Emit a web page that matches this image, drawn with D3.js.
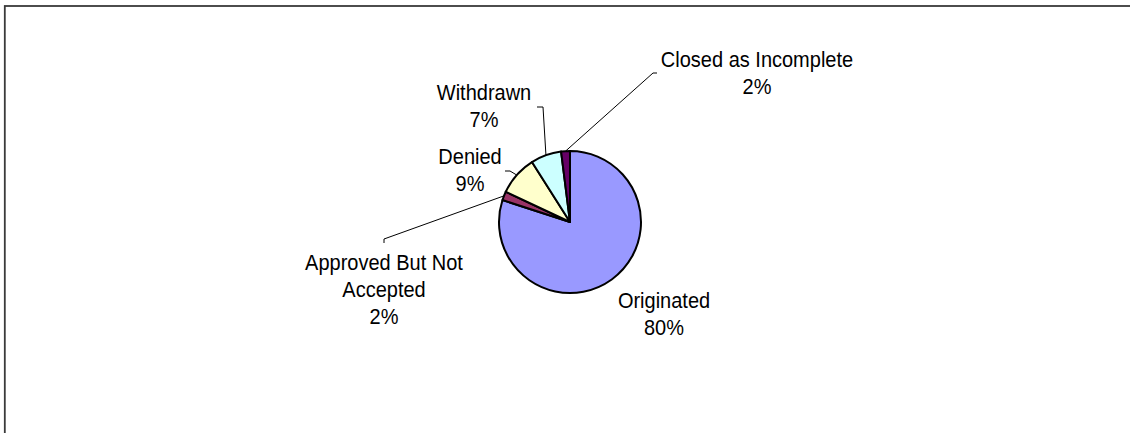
<!DOCTYPE html>
<html>
<head>
<meta charset="utf-8">
<script src="https://cdn.jsdelivr.net/npm/d3@7/dist/d3.min.js"></script>
<style>
  html, body { margin: 0; padding: 0; background: #fff; }
  svg { display: block; }
  text { font-family: "Liberation Sans", Arial, sans-serif; font-size: 20px; fill: #000; }
</style>
</head>
<body>
<svg id="chart" width="1130" height="433"></svg>
<script>
// Loan application outcomes
const categories = ["Originated", "Approved But Not Accepted", "Denied", "Withdrawn", "Closed as Incomplete"];
const shares = [80, 2, 9, 7, 2];
const labelLines = [
  ["Originated"],
  ["Approved But Not", "Accepted"],
  ["Denied"],
  ["Withdrawn"],
  ["Closed as Incomplete"]
];
const colors = ["#9999FF", "#993366", "#FFFFCC", "#CCFFFF", "#660066"];

// Label placement: text centre, first baseline, and leader elbow points
const labelLayout = [
  { x: 664, y: 308, leader: [] },
  { x: 384, y: 270, leader: [[384, 243], [384, 239]] },
  { x: 470, y: 164, leader: [[505, 171], [510, 171]] },
  { x: 484, y: 100, leader: [[537, 107], [543, 107]] },
  { x: 757, y: 67, leader: [[657, 73], [653, 73]] }
];
const lineStep = 27;
const textStretch = 1.1;

const svg = d3.select("#chart");
const W = 1130, H = 433;

// Chart area frame (runs off the right and bottom edges)
svg.append("rect")
  .attr("x", 4.8).attr("y", 6)
  .attr("width", W + 20).attr("height", H + 20)
  .attr("fill", "none")
  .attr("stroke", "#3a3a3a")
  .attr("stroke-width", 1.8);

const cx = 570, cy = 222, r = 71;
const pie = d3.pie().sort(null).value(d => d);
const arcs = pie(shares);
const arc = d3.arc().innerRadius(0).outerRadius(r);

const g = svg.append("g").attr("transform", `translate(${cx},${cy})`);
g.selectAll("path.slice")
  .data(arcs)
  .join("path")
  .attr("class", "slice")
  .attr("d", arc)
  .attr("fill", (d, i) => colors[i])
  .attr("stroke", "#000")
  .attr("stroke-width", 2)
  .attr("stroke-linejoin", "round");

// Leader lines from slice edge midpoints to the labels
const line = d3.line();
arcs.forEach((d, i) => {
  const L = labelLayout[i];
  if (!L.leader.length) return;
  const a = (d.startAngle + d.endAngle) / 2;
  const start = [cx + r * Math.sin(a), cy - r * Math.cos(a)];
  const pts = [start, ...L.leader.slice().reverse()];
  svg.append("path")
    .attr("d", line(pts))
    .attr("fill", "none")
    .attr("stroke", "#000")
    .attr("stroke-width", 1);
});

// Category and percentage labels
arcs.forEach((d, i) => {
  const L = labelLayout[i];
  const rows = [...labelLines[i], d3.format(".0f")(shares[i]) + "%"];
  rows.forEach((s, k) => {
    svg.append("text")
      .attr("text-anchor", "middle")
      .attr("transform", `translate(${L.x},${L.y + k * lineStep}) scale(1,${textStretch})`)
      .text(s);
  });
});
</script>
</body>
</html>
